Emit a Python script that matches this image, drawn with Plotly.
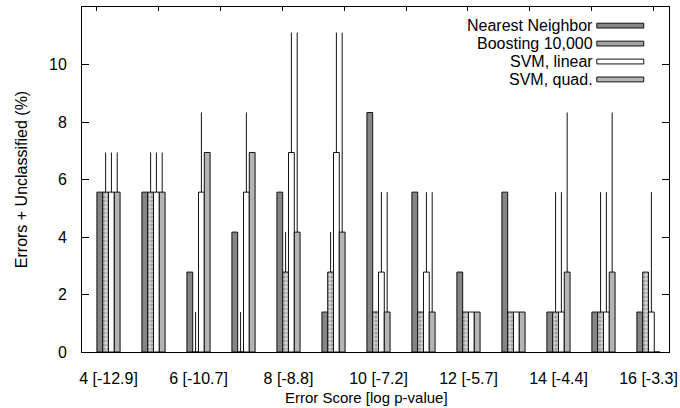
import plotly.graph_objects as go

# Error score groups and their log p-value labels
scores = [4, 5, 6, 7, 8, 9, 10, 11, 12, 13, 14, 15, 16]
tick_vals = [4, 6, 8, 10, 12, 14, 16]
tick_text = ["4 [-12.9]", "6 [-10.7]", "8 [-8.8]", "10 [-7.2]",
             "12 [-5.7]", "14 [-4.4]", "16 [-3.3]"]

# Errors + unclassified (%) per method
nearest_neighbor = [5.56, 5.56, 2.78, 4.17, 5.56, 1.39, 8.33, 5.56, 2.78, 5.56, 1.39, 1.39, 1.39]
boosting = [5.56, 5.56, 0.0, 0.0, 2.78, 2.78, 1.39, 1.39, 1.39, 1.39, 1.39, 1.39, 2.78]
svm_linear = [5.56, 5.56, 5.56, 5.56, 6.94, 6.94, 2.78, 2.78, 1.39, 1.39, 1.39, 1.39, 1.39]
svm_quad = [5.56, 5.56, 6.94, 6.94, 4.17, 4.17, 1.39, 1.39, 1.39, 1.39, 2.78, 2.78, 0.0]

# Upper limits of the error bars (None = no bar drawn)
nearest_neighbor_hi = [None] * 13
boosting_hi = [6.94, 6.94, 1.39, 1.39, 4.17, 4.17, None, None, None, None, 5.56, 5.56, None]
svm_linear_hi = [6.94, 6.94, 8.33, 8.33, 11.11, 11.11, 5.56, 5.56, None, None, 5.56, 5.56, 5.56]
svm_quad_hi = [6.94, 6.94, None, None, 11.11, 11.11, 5.56, 5.56, None, None, 8.33, 8.33, None]

FONT = "Liberation Sans, Arial, Helvetica, sans-serif"
FS = 16


def upper_err(vals, his):
    return [0 if h is None else h - v for v, h in zip(vals, his)]


series = [
    ("Nearest Neighbor", nearest_neighbor, nearest_neighbor_hi,
     dict(color="#858585")),
    ("Boosting 10,000", boosting, boosting_hi,
     dict(color="#c4c4c4",
          pattern=dict(shape=".", fgcolor="#6a6a6a", bgcolor="#d4d4d4",
                       size=4, solidity=0.5))),
    ("SVM, linear", svm_linear, svm_linear_hi, dict(color="#ffffff")),
    ("SVM, quad.", svm_quad, svm_quad_hi, dict(color="#b4b4b4")),
]
legend_fill = ["#858585", "#a4a4a4", "#ffffff", "#b4b4b4"]

fig = go.Figure()
for name, vals, his, mk in series:
    mk = dict(mk)
    mk["line"] = dict(color="#111111", width=1)
    fig.add_trace(go.Bar(
        x=scores, y=vals, name=name, marker=mk,
        error_y=dict(type="data", symmetric=False,
                     array=upper_err(vals, his),
                     arrayminus=[0] * len(vals),
                     width=0, thickness=1, color="#111111"),
        showlegend=False,
    ))

# carrier for the top tick axis
fig.add_trace(go.Scatter(x=[0, 9], y=[None, None], xaxis="x2", mode="none",
                         showlegend=False, hoverinfo="skip"))

# key: right-aligned labels with sample boxes on their right
row_y = [0.946, 0.894, 0.842, 0.790]
for (name, _, _, _), fill, yy in zip(series, legend_fill, row_y):
    fig.add_annotation(xref="paper", yref="paper", x=0.874, y=yy,
                       text=name, showarrow=False, xanchor="right",
                       yanchor="middle", font=dict(family=FONT, size=FS,
                                                   color="#000"))
    fig.add_shape(type="rect", xref="paper", yref="paper",
                  x0=0.877, x1=0.957, y0=yy - 0.007, y1=yy + 0.007,
                  fillcolor=fill, line=dict(color="#111111", width=1))

# x-axis title
fig.add_annotation(xref="paper", yref="paper", x=0.484, y=-0.133,
                   text="Error Score [log p-value]", showarrow=False,
                   xanchor="center", yanchor="middle",
                   font=dict(family=FONT, size=15, color="#000"))

fig.update_layout(
    width=680, height=408,
    margin=dict(l=82, r=11, t=7, b=56, autoexpand=False),
    paper_bgcolor="white", plot_bgcolor="white",
    barmode="group", bargap=0.485, bargroupgap=0,
    font=dict(family=FONT, size=FS, color="#000"),
    xaxis=dict(range=[3.411, 16.456], tickmode="array", tickvals=tick_vals,
               ticktext=tick_text, ticks="", showgrid=False, zeroline=False,
               showline=True, linecolor="#000", linewidth=1, mirror=True,
               ticklabelstandoff=12),
    xaxis2=dict(overlaying="x", side="top", range=[-0.237, 9.25],
                tickmode="linear", tick0=0, dtick=1, ticks="inside",
                ticklen=4, tickcolor="#000", showticklabels=False,
                showgrid=False, zeroline=False, showline=False),
    yaxis=dict(range=[0, 12], tickmode="array",
               tickvals=[0, 2, 4, 6, 8, 10, 12],
               ticktext=["0", "2", "4", "6", "8", "10", ""],
               ticks="inside", ticklen=7, tickcolor="#000",
               showgrid=False, zeroline=False, showline=True,
               linecolor="#000", linewidth=1, mirror="ticks",
               ticklabelstandoff=11,
               title=dict(text="Errors + Unclassified (%)", standoff=17,
                          font=dict(size=FS))),
)

fig.write_html("out.html")
